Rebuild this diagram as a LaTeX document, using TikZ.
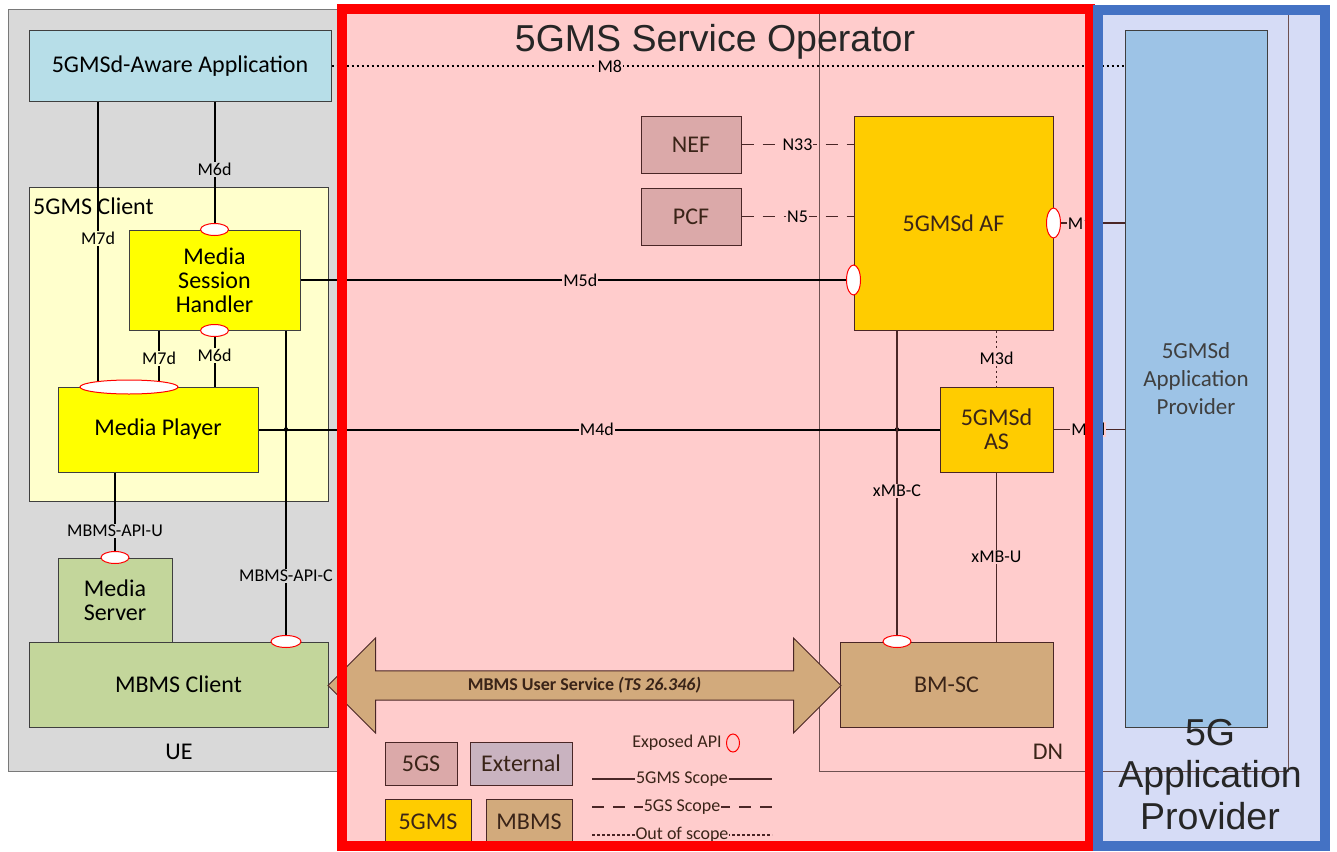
\documentclass[tikz,border=0pt]{standalone}
\usepackage{fontspec}
\setmainfont{Carlito}
\newfontfamily\headfont{Liberation Sans}
\usetikzlibrary{shapes.geometric, shapes.arrows}

\definecolor{uegray}{HTML}{D9D9D9}
\definecolor{appblue}{HTML}{B7DEE8}
\definecolor{clientyel}{HTML}{FFFFCC}
\definecolor{mediayel}{HTML}{FFFF00}
\definecolor{mbmsgreen}{HTML}{C3D69B}
\definecolor{oppink}{HTML}{FFCCCC}
\definecolor{nfrose}{HTML}{DBA9A9}
\definecolor{extmauve}{HTML}{C9B3C0}
\definecolor{msgold}{HTML}{FFCC00}
\definecolor{mbmstan}{HTML}{D2AA7C}
\definecolor{provlav}{HTML}{D6DCF6}
\definecolor{provblue}{HTML}{9DC3E6}
\definecolor{opred}{HTML}{FF0000}
\definecolor{apblue}{HTML}{4472C4}
\definecolor{ueline}{HTML}{3F3F3F}
\definecolor{opline}{HTML}{4A2626}
\definecolor{optext}{HTML}{3A2418}

\begin{document}
\begin{tikzpicture}[
    x=1pt, y=-1pt,
    every node/.style={font=\fontsize{24}{24}\selectfont},
    ue box/.style={draw=ueline, line width=1pt, align=center, inner sep=0pt},
    op box/.style={draw=opline, line width=1pt, align=center, inner sep=0pt, text=optext},
    lbl/.style={font=\fontsize{18}{20}\selectfont, inner sep=1pt},
    api/.style={ellipse, draw=opred, fill=white, line width=1pt, inner sep=0pt, minimum width=28pt, minimum height=12pt},
    vapi/.style={api, minimum width=14pt, minimum height=30pt},
    ueref/.style={line width=2pt, draw=black},
    opref/.style={line width=1.8pt, draw=opline},
    gsref/.style={opref, dash pattern=on 12pt off 9pt},
    extref/.style={opref, dash pattern=on 2.5pt off 2.5pt}
]
\useasboundingbox (0,0) rectangle (1337,851);

% areas
\draw[fill=uegray, draw=ueline!70, line width=1pt] (8,10) rectangle (345,771);
\fill[oppink] (342,9) rectangle (1090,846);
\fill[provlav] (1098,10) rectangle (1325,846);
\draw[opline!80, line width=1pt] (819,10) rectangle (1288,771);
\node (ue-lbl) at (179,752) {UE};
\node[text=optext] (dn-lbl) at (1048,752) {DN};
\draw[fill=clientyel, draw=ueline, line width=1pt] (29,187) rectangle (328,501);
\node[anchor=west, inner sep=0pt] (client-lbl) at (33,206) {5GMS Client};

% UE functions
\node[ue box, fill=appblue, minimum width=302pt, minimum height=70pt] (app) at (180,66) {5GMSd-Aware Application};
\node[ue box, fill=mediayel, minimum width=171pt, minimum height=100pt] (msh) at (214.5,280) {Media\\Session\\Handler};
\node[ue box, fill=mediayel, minimum width=200pt, minimum height=85pt] (player) at (158,429.5) {Media Player};
\node[ue box, fill=mbmsgreen, minimum width=114pt, minimum height=84pt] (mserver) at (115,600) {Media\\Server};
\node[ue box, fill=mbmsgreen, minimum width=299pt, minimum height=85pt] (mclient) at (178.5,684.5) {MBMS Client};

% operator functions
\node[op box, fill=nfrose, minimum width=100pt, minimum height=57pt] (nef) at (691,144.5) {NEF};
\node[op box, fill=nfrose, minimum width=100pt, minimum height=57pt] (pcf) at (691,216.5) {PCF};
\node[op box, fill=msgold, minimum width=199pt, minimum height=214pt] (af) at (953.5,223) {5GMSd AF};
\node[op box, fill=msgold, minimum width=113pt, minimum height=85pt] (as) at (996.5,429.5) {5GMSd\\AS};
\node[op box, fill=mbmstan, minimum width=213pt, minimum height=85pt] (bmsc) at (946.5,684.5) {BM-SC};
\node[ue box, fill=provblue, text=ueline, minimum width=142pt, minimum height=696pt,
      font=\fontsize{23}{28}\selectfont] (prov) at (1196,379) {5GMSd\\Application\\Provider};

\node[double arrow, draw=opline, fill=mbmstan, line width=1pt, minimum height=513pt, minimum width=95pt,
      double arrow head extend=19pt, inner sep=0pt, text=optext,
      font=\bfseries\fontsize{18}{20}\selectfont] (mus) at (584.5,685.5) {MBMS User Service \textit{(TS 26.346)}};

% reference points
\coordinate (m7-x) at (98,0);
\coordinate (m7b-x) at (159,0);
\coordinate (apic-x) at (286,0);
\coordinate (xmbc-x) at (897,0);

% UE links
\draw[ueref] (app.south -| m7-x) -- node[lbl, fill=clientyel, pos=0.48] (l-m7a) {M7d} (player.north -| m7-x);
\draw[ueref] (app.south -| msh.north) -- node[lbl, fill=uegray, pos=0.53] (l-m6a) {M6d} (msh.north);
\draw[ueref] (msh.south -| m7b-x) -- node[lbl, fill=clientyel] (l-m7b) {M7d} (player.north -| m7b-x);
\draw[ueref] (msh.south) -- node[lbl, fill=clientyel, pos=0.45] (l-m6b) {M6d} (player.north -| msh.south);
\draw[ueref] (player.south -| mserver.north) -- node[lbl, fill=uegray, pos=0.69] (l-apiu) {MBMS-API-U} (mserver.north);
\draw[ueref] (msh.south -| apic-x) -- node[lbl, fill=uegray, pos=0.79] (l-apic) {MBMS-API-C} (mclient.north -| apic-x);

% network links
\draw[ueref] (msh.east) -- node[lbl, fill=oppink, pos=0.506] (l-m5) {M5d} (af.west |- msh.east);
\draw[ueref] (player.east) -- node[lbl, fill=oppink, pos=0.497] (l-m4) {M4d} (as.west);
\fill (player.east -| apic-x) circle (2.2pt);
\fill (player.east -| xmbc-x) circle (2.2pt);
\draw[opref] (af.south -| xmbc-x) -- node[lbl, fill=oppink, pos=0.516] (l-xmbc) {xMB-C} (bmsc.north -| xmbc-x);
\draw[opref] (as.south) -- node[lbl, fill=oppink] (l-xmbu) {xMB-U} (bmsc.north -| as.south);
\draw[extref] (af.south -| as.north) -- node[lbl, fill=oppink] (l-m3) {M3d} (as.north);
\draw[gsref] (nef.east) -- node[lbl, fill=oppink] (l-n33) {N33} (af.west |- nef.east);
\draw[gsref] (pcf.east) -- node[lbl, fill=oppink] (l-n5) {N5} (af.west |- pcf.east);
\draw[opref] (af.east) -- node[lbl, fill=oppink, pos=0.44] (l-m1) {M1d} (prov.west |- af.east);
\draw[opref] (as.east) -- node[lbl, fill=oppink, pos=0.49] (l-m2) {M2d} (prov.west |- as.east);
\draw[extref, draw=black] (app.east) -- node[lbl, fill=oppink, pos=0.351] (l-m8) {M8} (prov.west |- app.east);

% exposed APIs
\node[api] (a-msh-top) at (msh.north) {};
\node[api] (a-msh-bot) at (msh.south) {};
\node[api, minimum width=98pt, minimum height=14pt] (a-player) at (129,387) {};
\node[api] (a-mserver) at (mserver.north) {};
\node[api, minimum width=30pt] (a-mclient) at (mclient.north -| apic-x) {};
\node[vapi] (a-af-m5) at (af.west |- msh.east) {};
\node[vapi] (a-af-m1) at (af.east) {};
\node[api] (a-bmsc) at (bmsc.north -| xmbc-x) {};

% legend
\node[op box, fill=nfrose, minimum width=72pt, minimum height=43pt] (lg-5gs) at (421,763.5) {5GS};
\node[op box, fill=extmauve, minimum width=102pt, minimum height=43pt] (lg-ext) at (521,763.5) {External};
\node[op box, fill=msgold, minimum width=86pt, minimum height=46pt] (lg-5gms) at (428,822) {5GMS};
\node[op box, fill=mbmstan, minimum width=86pt, minimum height=46pt] (lg-mbms) at (529,822) {MBMS};
\node[lbl, text=optext] (lg-api-txt) at (677,743) {Exposed API};
\node[api, fill=none, minimum width=13pt, minimum height=18pt] (lg-api) at (733,743) {};
\coordinate (lg-s1) at (592,779);
\coordinate (lg-s2) at (772,779);
\coordinate (lg-g1) at (592,807);
\coordinate (lg-g2) at (772,807);
\coordinate (lg-o1) at (592,835);
\coordinate (lg-o2) at (772,835);
\draw[opref] (lg-s1) -- node[lbl, fill=oppink, text=optext] (lg-s-txt) {5GMS Scope} (lg-s2);
\draw[gsref] (lg-g1) -- node[lbl, fill=oppink, text=optext] (lg-g-txt) {5GS Scope} (lg-g2);
\draw[extref] (lg-o1) -- node[lbl, fill=oppink, text=optext] (lg-o-txt) {Out of scope} (lg-o2);

% frames
\draw[opred, line width=10pt] (342,9) rectangle (1090,846);
\draw[apblue, line width=10pt] (1098,10) rectangle (1325,846);
\node[font=\headfont\fontsize{37.5}{40}\selectfont, text=black!85] (op-title) at (715,42) {5GMS Service Operator};
\node[font=\headfont\fontsize{37.5}{42}\selectfont, text=black!85, align=center] (ap-title) at (1210,775) {5G\\Application\\Provider};
\end{tikzpicture}
\end{document}
